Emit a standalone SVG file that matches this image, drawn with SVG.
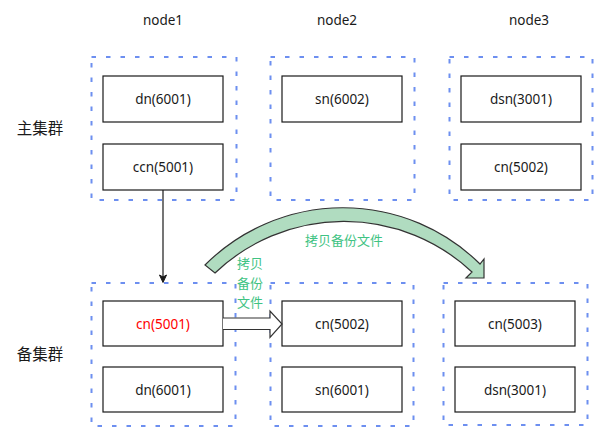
<svg xmlns="http://www.w3.org/2000/svg" width="594" height="428" viewBox="0 0 594 428">
  <style>
    .grp { fill: none; stroke: #6d8ff0; stroke-width: 2; stroke-dasharray: 4.5 10; }
    .box { fill: #ffffff; stroke: #1a1a1a; stroke-width: 1.2; }
    .t { font-family: "Noto Sans", "Open Sans", sans-serif; font-size: 13.5px; fill: #1a1a1a; text-anchor: middle; }
    .red { fill: #ff0000; }
    .cjk { font-family: "Noto Sans CJK SC", sans-serif; text-anchor: middle; }
    .side { font-size: 15.5px; fill: #1a1a1a; }
    .grn { font-size: 13px; fill: #3fc383; }
  </style>
  <rect width="594" height="428" fill="#ffffff"/>

  <g id="column-labels">
    <text class="t" x="163" y="25">node1</text>
    <text class="t" x="337" y="25">node2</text>
    <text class="t" x="529" y="25">node3</text>
  </g>
  <g id="row-labels">
    <text class="cjk side" x="40" y="134">主集群</text>
    <text class="cjk side" x="40" y="360">备集群</text>
  </g>

  <g id="main-node1">
    <rect class="grp" x="91.5" y="57" width="145" height="143"/>
    <g id="main-dn6001"><rect class="box" x="103" y="76" width="120" height="46"/><text class="t" x="163" y="104">dn(6001)</text></g>
    <g id="main-ccn5001"><rect class="box" x="103" y="144" width="120" height="46"/><text class="t" x="163" y="172">ccn(5001)</text></g>
  </g>
  <g id="main-node2">
    <rect class="grp" x="270.5" y="57" width="144" height="143"/>
    <g id="main-sn6002"><rect class="box" x="282" y="76" width="120" height="46"/><text class="t" x="342" y="104">sn(6002)</text></g>
  </g>
  <g id="main-node3">
    <rect class="grp" x="449.5" y="57" width="143" height="143"/>
    <g id="main-dsn3001"><rect class="box" x="461" y="76" width="120" height="46"/><text class="t" x="521" y="104">dsn(3001)</text></g>
    <g id="main-cn5002"><rect class="box" x="461" y="144" width="120" height="46"/><text class="t" x="521" y="172">cn(5002)</text></g>
  </g>

  <g id="backup-node1">
    <rect class="grp" x="91.5" y="283" width="144" height="143"/>
    <g id="backup-cn5001"><rect class="box" x="103" y="301" width="120" height="45"/><text class="t red" x="163" y="328.5">cn(5001)</text></g>
    <g id="backup-dn6001"><rect class="box" x="103" y="367" width="120" height="45"/><text class="t" x="163" y="394.5">dn(6001)</text></g>
  </g>
  <g id="backup-node2">
    <rect class="grp" x="270.5" y="283" width="143" height="143"/>
    <g id="backup-cn5002"><rect class="box" x="282" y="301" width="120" height="45"/><text class="t" x="342" y="328.5">cn(5002)</text></g>
    <g id="backup-sn6001"><rect class="box" x="282" y="367" width="120" height="45"/><text class="t" x="342" y="394.5">sn(6001)</text></g>
  </g>
  <g id="backup-node3">
    <rect class="grp" x="443.5" y="283" width="144" height="142"/>
    <g id="backup-cn5003"><rect class="box" x="455" y="301" width="120" height="45"/><text class="t" x="515" y="328.5">cn(5003)</text></g>
    <g id="backup-dsn3001"><rect class="box" x="455" y="367" width="120" height="45"/><text class="t" x="515" y="394.5">dsn(3001)</text></g>
  </g>

  <g id="connectors">
    <line x1="163" y1="190" x2="163" y2="277" stroke="#1a1a1a" stroke-width="1.2"/>
    <path d="M159.5,275 L163,277 L166.5,275 L163,282.5 Z" fill="#1a1a1a" stroke="#1a1a1a" stroke-width="1"/>
    <path d="M223,318 H270 V311 L282,324 L270,337.5 V329.5 H223" fill="#ffffff" stroke="#333333" stroke-width="1.2"/>
    <path d="M205,265 A195 195 0 0 1 480,264 L484,259 L484,278 L466,278 L472,272 A187 187 0 0 0 215,273 Z" fill="#b0dcc0" stroke="#333333" stroke-width="1.2" stroke-linejoin="miter"/>
  </g>

  <g id="connector-labels">
    <text class="cjk grn" x="344" y="245">拷贝备份文件</text>
    <text class="cjk grn" x="250" y="268">拷贝</text>
    <text class="cjk grn" x="250" y="288">备份</text>
    <text class="cjk grn" x="250" y="307">文件</text>
  </g>
</svg>
